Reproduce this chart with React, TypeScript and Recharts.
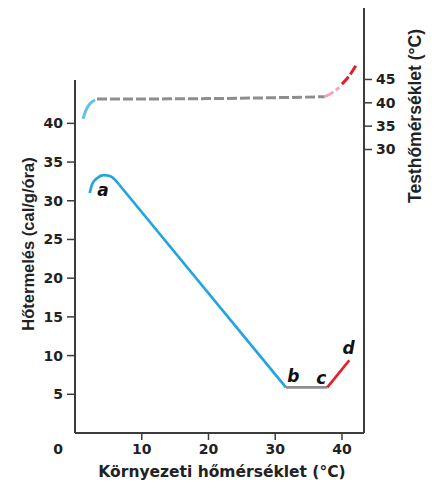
import { ComposedChart, Line, XAxis, YAxis, ReferenceDot } from "recharts";

// axis ticks
const xTicks = [0, 10, 20, 30, 40];
const heatTicks = [5, 10, 15, 20, 25, 30, 35, 40];
const bodyTicks = [30, 35, 40, 45];

const xDomain = [0, 43.3];
const heatDomain = [0, 45.6];
const bodyDomain = [-30.7, 60.3];

// heat production (left axis)
const heatArc = [
  { x: 2.2, y: 31.0 },
  { x: 2.6, y: 32.2 },
  { x: 3.3, y: 32.9 },
  { x: 4.3, y: 33.3 },
  { x: 5.2, y: 33.2 },
  { x: 6.0, y: 32.7 },
  { x: 6.6, y: 32.1 },
];
const heatDrop = [
  { x: 6.6, y: 32.1 },
  { x: 31.6, y: 5.9 },
];
const heatFlat = [
  { x: 31.6, y: 5.9 },
  { x: 37.8, y: 5.9 },
];
const heatRise = [
  { x: 37.8, y: 5.9 },
  { x: 41.1, y: 9.4 },
];

// body temperature (right axis)
const bodyCold = [
  { x: 1.2, y: 36.6 },
  { x: 1.7, y: 38.6 },
  { x: 2.3, y: 39.9 },
  { x: 3.0, y: 40.6 },
];
const bodyNormal = [
  { x: 3.3, y: 40.8 },
  { x: 20, y: 40.9 },
  { x: 37.4, y: 41.3 },
];
const bodyWarm = [
  { x: 37.4, y: 41.3 },
  { x: 38.5, y: 42.1 },
  { x: 39.6, y: 43.3 },
];
const bodyHot = [
  { x: 40.0, y: 44.0 },
  { x: 41.2, y: 46.0 },
  { x: 42.1, y: 48.0 },
];

const points = [
  { name: "a", x: 4.2, y: 31.4 },
  { name: "b", x: 32.7, y: 7.4 },
  { name: "c", x: 36.9, y: 7.1 },
  { name: "d", x: 41.0, y: 11.0 },
];

const INK = "#3c3c3c";
const BLUE = "#21a4df";
const LIGHT_BLUE = "#62c0ea";
const GRAY = "#8e8e8e";
const RED = "#e41f2a";
const PINK = "#f4a5b7";
const TICK_FONT = "DejaVu Sans, sans-serif";
const TITLE_FONT = "Liberation Sans, Arial, sans-serif";

function XTick(props: any) {
  const { x, y, payload } = props;
  if (payload.value === 0) {
    return (
      <text x={x - 17} y={y} dy="0.71em" textAnchor="middle" fontFamily={TICK_FONT} fontWeight="bold" fontSize={14} fill="#222">
        0
      </text>
    );
  }
  return (
    <g>
      <line x1={x} x2={x} y1={y - 11} y2={y - 4} stroke={INK} strokeWidth={1.5} />
      <text x={x} y={y} dy="0.71em" textAnchor="middle" fontFamily={TICK_FONT} fontWeight="bold" fontSize={14} fill="#222">
        {payload.value}
      </text>
    </g>
  );
}

function Title(props: any) {
  const { px, py, rot, txt, fs, fam } = props;
  return (
    <text
      x={px}
      y={py}
      transform={rot ? `rotate(${rot} ${px} ${py})` : undefined}
      textAnchor="middle"
      dominantBaseline="central"
      fontFamily={fam}
      fontWeight="bold"
      fontSize={fs}
      fill="#222"
    >
      {txt}
    </text>
  );
}

const tickStyle = { fontFamily: TICK_FONT, fontWeight: "bold", fontSize: 14, fill: "#222" };
const layer = { position: "absolute" as const, left: 0, top: 0 };

export default function App() {
  return (
    <div style={{ position: "absolute", left: 0, top: 0, width: 436, height: 486, background: "#fff" }}>
      {/* heat production: plot starts lower so the left axis line stops near the top tick */}
      <div style={layer}>
        <ComposedChart width={436} height={486} margin={{ top: 80, right: 72, bottom: 0, left: 8 }}>
          <XAxis
            type="number"
            dataKey="x"
            domain={xDomain}
            ticks={xTicks}
            height={53}
            tickSize={8}
            tickMargin={3}
            tickLine={false}
            axisLine={{ stroke: INK, strokeWidth: 2 }}
            tick={<XTick />}
            label={<Title px={222} py={472} txt="Környezeti hőmérséklet  (°C)" fs={15.5} fam={TICK_FONT} />}
          />
          <YAxis
            type="number"
            domain={heatDomain}
            ticks={heatTicks}
            width={67}
            tickSize={8}
            tickMargin={4}
            axisLine={{ stroke: INK, strokeWidth: 2 }}
            tickLine={{ stroke: INK, strokeWidth: 1.5 }}
            tick={tickStyle}
            label={<Title px={28} py={244} rot={-90} txt="Hőtermelés (cal/g/óra)" fs={16.5} fam={TITLE_FONT} />}
          />
          <Line data={heatArc} dataKey="y" type="monotone" stroke={BLUE} strokeWidth={2.7} dot={false} activeDot={false} isAnimationActive={false} />
          <Line data={heatDrop} dataKey="y" type="linear" stroke={BLUE} strokeWidth={2.7} dot={false} activeDot={false} isAnimationActive={false} />
          <Line data={heatFlat} dataKey="y" type="linear" stroke={GRAY} strokeWidth={2.7} dot={false} activeDot={false} isAnimationActive={false} />
          <Line data={heatRise} dataKey="y" type="linear" stroke={RED} strokeWidth={2.7} dot={false} activeDot={false} isAnimationActive={false} />
          {points.map((p) => (
            <ReferenceDot
              key={p.name}
              x={p.x}
              y={p.y}
              r={0.01}
              fill="none"
              stroke="none"
              label={{
                value: p.name,
                position: "center",
                fill: "#111",
                fontSize: 17,
                fontWeight: "bold",
                fontStyle: "italic",
                fontFamily: TICK_FONT,
              }}
            />
          ))}
        </ComposedChart>
      </div>

      {/* body temperature on the right axis */}
      <div style={layer}>
        <ComposedChart width={436} height={486} margin={{ top: 8, right: 0, bottom: 53, left: 75 }}>
          <XAxis type="number" dataKey="x" domain={xDomain} hide />
          <YAxis
            orientation="right"
            type="number"
            domain={bodyDomain}
            ticks={bodyTicks}
            width={72}
            tickSize={8}
            tickMargin={4}
            axisLine={{ stroke: INK, strokeWidth: 2 }}
            tickLine={{ stroke: INK, strokeWidth: 1.5 }}
            tick={tickStyle}
            label={<Title px={415} py={116} rot={-90} txt="Testhőmérséklet (°C)" fs={17.5} fam={TITLE_FONT} />}
          />
          <Line data={bodyCold} dataKey="y" type="monotone" stroke={LIGHT_BLUE} strokeWidth={3} dot={false} activeDot={false} isAnimationActive={false} />
          <Line data={bodyNormal} dataKey="y" type="monotone" stroke={GRAY} strokeWidth={3} strokeDasharray="10 3" dot={false} activeDot={false} isAnimationActive={false} />
          <Line data={bodyWarm} dataKey="y" type="monotone" stroke={PINK} strokeWidth={3} strokeDasharray="10 3" dot={false} activeDot={false} isAnimationActive={false} />
          <Line data={bodyHot} dataKey="y" type="monotone" stroke={RED} strokeWidth={3} strokeDasharray="10 3" dot={false} activeDot={false} isAnimationActive={false} />
        </ComposedChart>
      </div>
    </div>
  );
}
